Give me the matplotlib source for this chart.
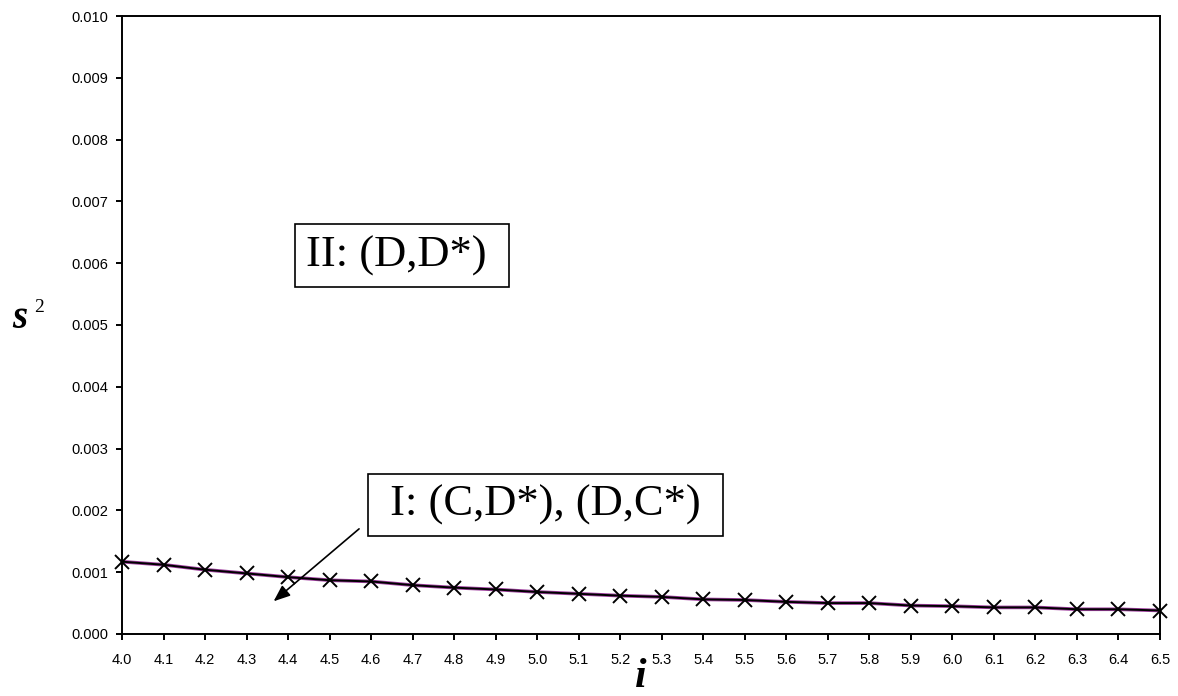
import matplotlib.pyplot as plt
from matplotlib.ticker import MultipleLocator, FormatStrFormatter

# data
i_vals = [4.0, 4.1, 4.2, 4.3, 4.4, 4.5, 4.6, 4.7, 4.8, 4.9, 5.0, 5.1, 5.2,
          5.3, 5.4, 5.5, 5.6, 5.7, 5.8, 5.9, 6.0, 6.1, 6.2, 6.3, 6.4, 6.5]
s2_vals = [0.00117, 0.00112, 0.00104, 0.00098, 0.00092, 0.00087, 0.00085,
           0.00079, 0.00075, 0.00072, 0.00068, 0.00065, 0.00062, 0.00060,
           0.00056, 0.00055, 0.00052, 0.00050, 0.00050, 0.00046, 0.00045,
           0.00043, 0.00043, 0.00040, 0.00040, 0.00038]
x_ticks = [4.0 + 0.1 * k for k in range(26)]

plt.rcParams['font.family'] = 'Liberation Sans'

fig = plt.figure(figsize=(11.78, 6.96), dpi=100)
ax = fig.add_axes([0.1036, 0.0891, 0.8811, 0.8879])

# faint purple line under the black one, like the original
ax.plot(i_vals, s2_vals, color='#a040a0', linewidth=2.6, zorder=2)
ax.plot(i_vals, s2_vals, color='black', linewidth=1.4, marker='x',
        markersize=10, markeredgewidth=1.4, zorder=3, clip_on=False)

ax.set_xlim(4.0, 6.5)
ax.set_ylim(0, 0.010)
ax.set_xticks(x_ticks)
ax.set_xticklabels([f"{t:.1f}" for t in x_ticks])
ax.yaxis.set_major_locator(MultipleLocator(0.001))
ax.yaxis.set_major_formatter(FormatStrFormatter('%.3f'))
ax.tick_params(direction='out', length=4, width=1.4, labelsize=10.5, pad=6)
ax.tick_params(axis='x', pad=10)
for sp in ax.spines.values():
    sp.set_linewidth(1.4)

# region labels
box = dict(boxstyle='square,pad=0.25', facecolor='white', edgecolor='black', linewidth=1.2)
ax.text(4.675, 0.00612, 'II: (D,D*) ', family='Liberation Serif', fontsize=32,
        ha='center', va='center', bbox=box)
ax.annotate('', xy=(4.36, 0.0005), xytext=(4.576, 0.00173),
            arrowprops=dict(arrowstyle='-|>,head_length=1.0,head_width=0.4',
                            color='black', lw=1.2))
ax.text(5.02, 0.00209, ' I: (C,D*), (D,C*) ', family='Liberation Serif', fontsize=32,
        ha='center', va='center', bbox=box, zorder=5)

# axis labels
fig.text(0.544, 0.0, 'i', family='Liberation Serif', style='italic',
         weight='bold', fontsize=30, ha='center', va='bottom')
fig.text(0.017, 1 - 328 / 696, 's', family='Liberation Serif', style='italic',
         weight='bold', fontsize=28, ha='center', va='baseline')
fig.text(0.033, 1 - 312 / 696, '2', family='Liberation Serif', fontsize=14,
         ha='center', va='baseline')

fig.savefig('out.png', dpi=100)
